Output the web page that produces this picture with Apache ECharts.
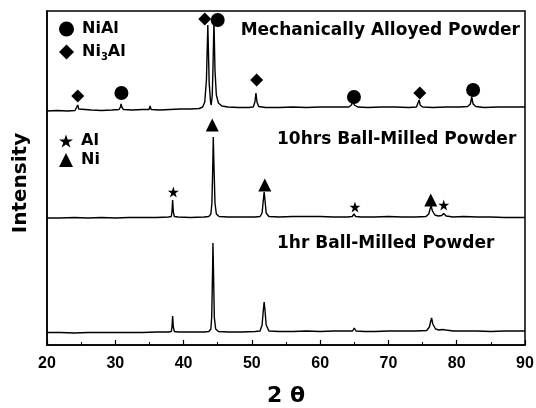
<!DOCTYPE html>
<html>
<head>
<meta charset="utf-8">
<script src="https://cdn.jsdelivr.net/npm/echarts@6/dist/echarts.min.js"></script>
<style>html,body{margin:0;padding:0;background:#fff}#chart{width:536px;height:408px}</style>
</head>
<body>
<div id="chart"></div>
<script>
// 2θ range and tick settings
const xMin = 20, xMax = 90, xStep = 10;
const xAxisName = '2 θ';
const yAxisName = 'Intensity';

// Panel titles
const panelTitles = ['Mechanically Alloyed Powder', '10hrs Ball-Milled Powder', '1hr Ball-Milled Powder'];

// Diffraction patterns [2θ, intensity (arb., stacked)]
const mechAlloyed = [
[20,234],[21.5,234.5],[23,234],[24.1,234.5],[24.35,236],[24.5,240],[24.65,236],[24.9,234.5],[26.5,235],[28,234.5],[29.5,235],[30.55,235.5],[30.75,238],[30.85,241],[30.95,238],[31.2,235.5],[32.5,235],[34,235.5],[34.95,235.5],[35.1,239],[35.25,235.5],[36.5,235],[38,235.5],[39.5,236],[41,236],[42.3,236.5],[42.8,238],[43.1,243],[43.35,265],[43.55,320],[43.75,262],[43.95,243],[44.05,240],[44.2,250],[44.3,275],[44.45,324],[44.6,275],[44.8,250],[45.1,242],[45.6,239],[46.5,238],[48,237.5],[49.5,237.5],[50.2,238],[50.45,243],[50.6,252],[50.75,243],[51.0,238.5],[52,237.5],[54,237.5],[56,238],[58,237.5],[60,238],[62,238],[64.2,238],[64.6,240],[64.8,246],[65.0,240],[65.5,238],[67,237.5],[69,238],[71,238],[73,237.5],[74.1,238],[74.35,240],[74.5,245],[74.65,240],[75,238],[76.5,237.5],[78.5,238],[80.5,238],[81.6,238.5],[82.0,241],[82.2,248],[82.4,241],[82.8,238.5],[84,237.5],[86,238],[88,238],[90,238]
];
const ballMilled10h = [
[20,127],[22,127],[24,127.5],[26,127],[28,127.5],[30,127],[32,127.5],[34,127.5],[36,127.5],[37.8,128],[38.2,128.5],[38.3,133],[38.4,145],[38.5,133],[38.65,128.5],[39.2,128],[41,127.5],[43,128],[43.7,128.5],[44.0,131],[44.15,142],[44.28,180],[44.35,208],[44.45,180],[44.6,142],[44.8,131],[45.2,128.5],[46.5,128],[48.5,128],[50.5,128],[51.2,128.5],[51.5,132],[51.68,145],[51.8,153],[51.92,145],[52.1,132],[52.5,128.5],[54,128],[56,128.5],[58,128.5],[60,128.5],[62,128],[64,128],[64.7,128.5],[64.95,131],[65.2,128.5],[66,128],[68,128],[70,128.5],[72,128],[74,128],[75.5,128.5],[75.9,131],[76.1,136],[76.25,139],[76.45,134],[76.8,130],[77.3,129],[77.8,129.5],[78.1,131.5],[78.45,129],[79.5,128],[81,128.5],[83,128],[85,128],[87,127.5],[90,127.5]
];
const ballMilled1h = [
[20,12.5],[22,12.5],[24,12],[26,12.5],[28,12.5],[30,12.5],[32,12.5],[34,12.5],[36,13],[37.8,13],[38.2,13.5],[38.3,18],[38.4,29],[38.5,18],[38.65,13.5],[39.2,13],[41,13],[43,13],[43.7,13.5],[44.0,16],[44.12,28],[44.25,75],[44.3,102],[44.38,75],[44.5,28],[44.7,16],[45.1,13.5],[46.5,13],[48.5,13],[50.5,13.5],[51.2,14],[51.5,20],[51.68,35],[51.8,43],[51.92,35],[52.1,20],[52.5,14],[54,13.5],[56,13.5],[58,14],[60,13.5],[62,14],[64,14],[64.75,14],[65.0,17],[65.25,14],[66.5,13.5],[68,13.5],[70,14],[72,14],[74,14],[75.6,14.5],[76.0,18],[76.2,24],[76.32,27],[76.5,21],[76.9,16],[77.4,15],[77.9,15.5],[78.1,17],[78.4,15],[79.5,14],[81,14],[83,14],[85,13.5],[87,14],[90,14]
];

// Phase markers [2θ, intensity]
const niAlMarks = [[30.9,252],[45.0,325],[64.95,248],[82.4,255]];
const ni3AlMarks = [[24.5,249],[43.1,326],[50.7,265],[74.6,252]];
const alMarks = [[38.5,153],[65.1,138],[78.1,140]];
const niMarks = [[44.2,220],[51.9,160],[76.2,145]];

const STAR = 'path://M50,0 L61.8,35.4 L99,35.4 L69,57.3 L80.4,92.7 L50,70.8 L19.6,92.7 L31,57.3 L1,35.4 L38.2,35.4 Z';
const txtFont = 'DejaVu Sans';

const chart = echarts.init(document.getElementById('chart'), null, {renderer: 'canvas'});
const lineSeries = (name, data) => ({
  name, type: 'line', data, showSymbol: false, symbol: 'none', smooth: false,
  lineStyle: {color: '#000', width: 1.4}, silent: true, z: 2
});
const markSeries = (name, data, symbol, size) => ({
  name, type: 'scatter', data, symbol, symbolSize: size,
  itemStyle: {color: '#000', opacity: 1}, silent: true, z: 3
});

chart.setOption({
  animation: false,
  backgroundColor: '#fff',
  grid: {left: 47, right: 11, top: 11, bottom: 63, show: true, borderColor: '#000', borderWidth: 1.5,
         containLabel: false, outerBoundsMode: 'none'},
  xAxis: {
    type: 'value', min: xMin, max: xMax, interval: xStep,
    name: xAxisName, nameLocation: 'middle', nameGap: 40,
    nameTextStyle: {fontFamily: txtFont, fontWeight: 'bold', fontSize: 22, color: '#000'},
    axisLine: {show: true, lineStyle: {color: '#000', width: 1.5}},
    axisTick: {show: true, inside: true, length: 5, lineStyle: {color: '#000', width: 1.2}},
    minorTick: {show: true, splitNumber: 2, length: 3, lineStyle: {color: '#000', width: 1}},
    axisLabel: {fontFamily: 'Liberation Sans', fontWeight: 'bold', fontSize: 16, color: '#000', margin: 11},
    splitLine: {show: false}
  },
  yAxis: {
    type: 'value', min: 0, max: 334,
    name: yAxisName, nameLocation: 'middle', nameGap: 16, nameRotate: 90,
    nameTextStyle: {fontFamily: txtFont, fontWeight: 'bold', fontSize: 20, color: '#000', padding: [0, 10, 0, 0]},
    axisLine: {show: true, lineStyle: {color: '#000', width: 1.5}},
    axisTick: {show: false}, axisLabel: {show: false}, splitLine: {show: false}
  },
  legend: [
    {
      data: ['NiAl', 'Ni3Al'], orient: 'vertical', left: 54, top: 16, itemGap: 7,
      itemWidth: 15, itemHeight: 15, selectedMode: false,
      itemStyle: {color: '#000', opacity: 1},
      formatter: n => n === 'Ni3Al' ? '{b|Ni}{s|3}{b|Al}' : '{b|' + n + '}',
      textStyle: {padding: [0, 0, 0, 3], rich: {
        b: {fontFamily: txtFont, fontWeight: 'bold', fontSize: 16, color: '#000'},
        s: {fontFamily: txtFont, fontWeight: 'bold', fontSize: 10, color: '#000', padding: [10, 0, 0, 0]}
      }}
    },
    {
      data: ['Al', 'Ni'], orient: 'vertical', left: 54, top: 128, itemGap: 3,
      itemWidth: 14, itemHeight: 14, selectedMode: false,
      itemStyle: {color: '#000', opacity: 1},
      textStyle: {fontFamily: txtFont, fontWeight: 'bold', fontSize: 16, color: '#000', padding: [0, 0, 0, 3]}
    }
  ],
  graphic: [
    {type: 'text', right: 536 - 520, top: 22, style: {text: panelTitles[0], font: 'bold 17px "DejaVu Sans"', fill: '#000'}},
    {type: 'text', left: 277, top: 131, style: {text: panelTitles[1], font: 'bold 17px "DejaVu Sans"', fill: '#000'}},
    {type: 'text', left: 277, top: 235, style: {text: panelTitles[2], font: 'bold 17px "DejaVu Sans"', fill: '#000'}}
  ],
  series: [
    lineSeries('Mechanically Alloyed', mechAlloyed),
    lineSeries('10hrs Ball-Milled', ballMilled10h),
    lineSeries('1hr Ball-Milled', ballMilled1h),
    markSeries('NiAl', niAlMarks, 'circle', 14),
    markSeries('Ni3Al', ni3AlMarks, 'diamond', 13),
    markSeries('Al', alMarks, STAR, 11),
    markSeries('Ni', niMarks, 'triangle', 13)
  ]
});
</script>
</body>
</html>
